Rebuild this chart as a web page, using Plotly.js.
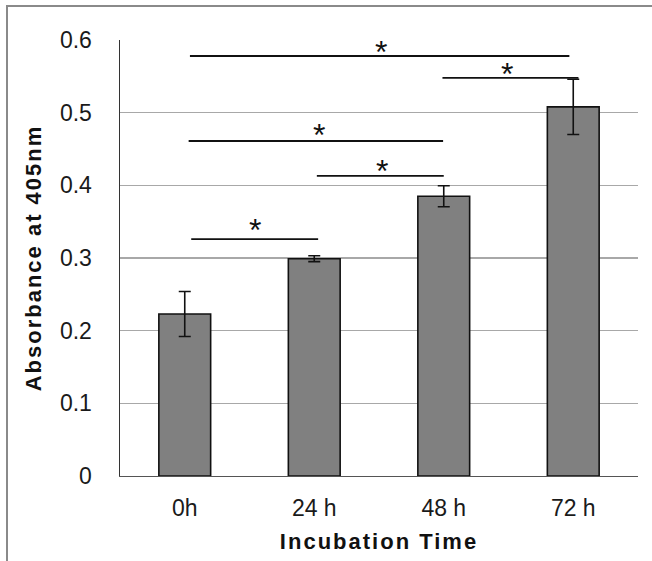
<!DOCTYPE html>
<html>
<head>
<meta charset="utf-8">
<script src="https://cdn.plot.ly/plotly-3.0.1.min.js"></script>
<style>
  html, body { margin: 0; padding: 0; background: #fff; }
  #wrap { position: relative; width: 652px; height: 561px; }
  #chart { position: absolute; left: 0; top: 0; width: 652px; height: 561px; }
  #frame { position: absolute; left: 6px; top: 5px; width: 646px; height: 556px;
           border-left: 2px solid #8a8a8a; border-top: 2px solid #8a8a8a; pointer-events: none; }
  .xtitle, .ytitle { letter-spacing: 2px; }
</style>
</head>
<body>
<div id="wrap">
  <div id="chart"></div>
  <div id="frame"></div>
</div>
<script>
// Data
var categories = ["0h", "24 h", "48 h", "72 h"];
var absorbance = [0.223, 0.299, 0.385, 0.508];
var errors = [0.031, 0.004, 0.0145, 0.038];

// Significance brackets (x in category index units, y in absorbance units)
var sigX0 = [0.04, 1.99, 0.03, 1.02, 0.05];
var sigX1 = [2.97, 3.04, 1.995, 2.00, 1.03];
var sigY  = [0.578, 0.548, 0.461, 0.413, 0.326];
var starX = [1.515, 2.49, 1.037, 1.525, 0.543];
var starY = [0.594, 0.564, 0.480, 0.431, 0.350];
var starText = ["*", "*", "*", "*", "*"];

var yTicks = [0, 0.1, 0.2, 0.3, 0.4, 0.5, 0.6];
var yTickText = ["0", "0.1", "0.2", "0.3", "0.4", "0.5", "0.6"];

var xIdx = categories.map(function (c, i) { return i; });

var trace = {
  type: "bar",
  x: xIdx,
  y: absorbance,
  width: 0.4,
  marker: { color: "#808080", line: { color: "#111111", width: 1.6 } },
  error_y: { type: "data", array: errors, visible: true, color: "#111111", thickness: 1.6, width: 6 },
  hoverinfo: "skip"
};

var shapes = sigY.map(function (y, i) {
  return { type: "line", xref: "x", yref: "y", x0: sigX0[i], x1: sigX1[i], y0: y, y1: y,
           line: { color: "#111111", width: 1.8 } };
});

var annotations = starX.map(function (x, i) {
  return { x: x, y: starY[i], xref: "x", yref: "y", text: starText[i], showarrow: false,
           xanchor: "center", yanchor: "middle", yshift: -8,
           font: { family: "Liberation Sans, Arial, sans-serif", size: 32, color: "#111111" } };
});

var layout = {
  width: 652, height: 561,
  margin: { l: 120, r: 14, t: 40, b: 85 },
  paper_bgcolor: "#ffffff", plot_bgcolor: "#ffffff",
  showlegend: false,
  font: { family: "Liberation Sans, Arial, sans-serif", color: "#1a1a1a" },
  bargap: 0.6,
  xaxis: {
    type: "linear",
    range: [-0.5, 3.5],
    tickvals: xIdx,
    ticktext: categories,
    showgrid: false, zeroline: false,
    showline: true, linecolor: "#555555", linewidth: 1.3,
    ticks: "", ticklabelstandoff: 11,
    tickfont: { size: 23, color: "#1a1a1a" },
    title: { text: "Incubation Time", standoff: 13,
             font: { size: 22, color: "#111111", family: "Liberation Sans, Arial, sans-serif", weight: "bold" } },
    fixedrange: true
  },
  yaxis: {
    range: [0, 0.6],
    tickvals: yTicks,
    ticktext: yTickText,
    showgrid: true, gridcolor: "#a8a8a8", gridwidth: 1.3,
    zeroline: false,
    showline: true, linecolor: "#333333", linewidth: 1.5,
    ticks: "", ticklabelstandoff: 22,
    tickfont: { size: 23, color: "#1a1a1a" },
    title: { text: "Absorbance at 405nm", standoff: 12,
             font: { size: 22, color: "#111111", family: "Liberation Sans, Arial, sans-serif", weight: "bold" } },
    fixedrange: true
  },
  shapes: shapes,
  annotations: annotations
};

Plotly.newPlot("chart", [trace], layout, { displayModeBar: false, staticPlot: true });
</script>
</body>
</html>
